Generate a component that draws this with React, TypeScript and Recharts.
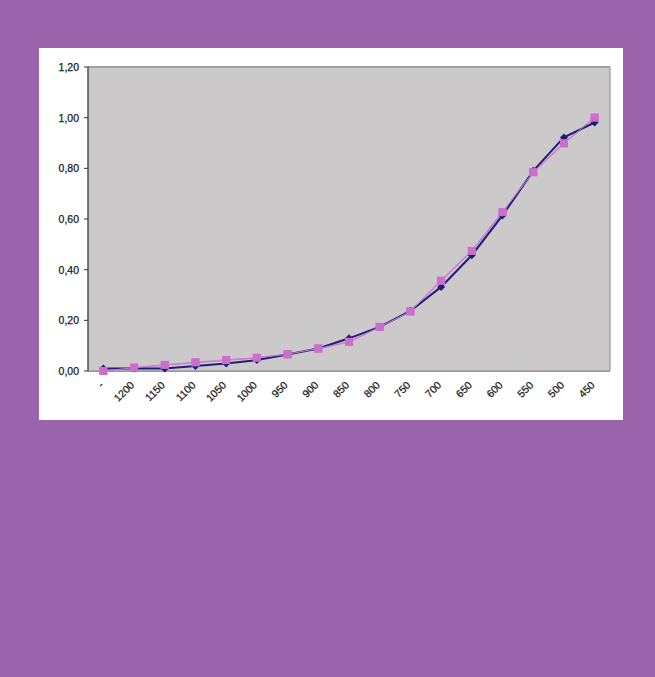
import React from "react";
import { LineChart, Line, XAxis, YAxis, CartesianGrid, ReferenceArea } from "recharts";

const categories = ["-", "1200", "1150", "1100", "1050", "1000", "950", "900", "850", "800", "750", "700", "650", "600", "550", "500", "450"];
const seriesBlue = [0.01, 0.01, 0.01, 0.02, 0.03, 0.043, 0.065, 0.089, 0.129, 0.174, 0.237, 0.332, 0.457, 0.614, 0.79, 0.922, 0.981];
const seriesPink = [0.0, 0.013, 0.024, 0.034, 0.043, 0.052, 0.066, 0.089, 0.115, 0.174, 0.235, 0.356, 0.474, 0.627, 0.785, 0.899, 1.0];
const yTicks = [0, 0.2, 0.4, 0.6, 0.8, 1.0, 1.2];

const data = categories.map((c, i) => ({ pos: i + 0.5, label: c, blue: seriesBlue[i], pink: seriesPink[i] }));
const labelTicks = categories.map((_, i) => i + 0.5);
const boundaryTicks = categories.map((_, i) => i).concat([categories.length]);

const FONT = "Liberation Sans, Arial, sans-serif";

const RotTick = (props: any) => {
  const { x, y, payload } = props;
  const idx = Math.round(payload.value - 0.5);
  return (
    <text
      x={0}
      y={0}
      transform={`translate(${x - 2},${y + 4}) rotate(-45)`}
      textAnchor="end"
      dominantBaseline="central"
      fontSize={10.5}
      fontFamily={FONT}
      fill="#1a1a1a"
      stroke="#1a1a1a"
      strokeWidth={0.25}
    >
      {categories[idx]}
    </text>
  );
};

const YTick = (props: any) => {
  const { x, y, payload } = props;
  return (
    <text x={x} y={y} textAnchor="end" dominantBaseline="central" fontSize={10.5} fontFamily={FONT} fill="#1a1a1a" stroke="#1a1a1a" strokeWidth={0.25}>
      {Number(payload.value).toFixed(2).replace(".", ",")}
    </text>
  );
};

const Diamond = (props: any) => {
  const { cx, cy } = props;
  if (cx == null || cy == null) return null;
  return <path d={`M${cx},${cy - 4}L${cx + 4},${cy}L${cx},${cy + 4}L${cx - 4},${cy}Z`} fill="#1c1f78" />;
};

const Square = (props: any) => {
  const { cx, cy } = props;
  if (cx == null || cy == null) return null;
  return <rect x={cx - 4} y={cy - 4} width={8} height={8} fill="#cc6fcc" />;
};

export default function App() {
  return (
    <div style={{ position: "absolute", left: 0, top: 0, width: 655, height: 677, background: "#9a63ac", overflow: "hidden" }}>
      <div style={{ position: "absolute", left: 39, top: 48, width: 584, height: 372, background: "#ffffff" }}>
        <LineChart width={584} height={372} data={data} margin={{ top: 19, right: 13, left: 9, bottom: 9 }}>
          <ReferenceArea xAxisId="ticks" x1={0} x2={categories.length} y1={0} y2={1.2} fill="#cbc9ca" fillOpacity={1} stroke="#8a8a8a" strokeWidth={1} />
          <CartesianGrid xAxisId="ticks" vertical={false} stroke="#4a4a4a" strokeWidth={1} fill="none" />
          <XAxis
            xAxisId="ticks"
            type="number"
            dataKey="pos"
            domain={[0, categories.length]}
            ticks={boundaryTicks}
            tick={false}
            tickLine={{ stroke: "#333" }}
            tickSize={4}
            axisLine={{ stroke: "#333" }}
            height={0}
          />
          <XAxis
            xAxisId="labels"
            type="number"
            dataKey="pos"
            domain={[0, categories.length]}
            ticks={labelTicks}
            tick={<RotTick />}
            tickLine={false}
            axisLine={false}
            height={40}
            interval={0}
          />
          <YAxis
            type="number"
            domain={[0, 1.2]}
            ticks={yTicks}
            tick={<YTick />}
            tickLine={{ stroke: "#333" }}
            tickSize={4}
            tickMargin={5}
            axisLine={{ stroke: "#333" }}
            width={40}
            interval={0}
          />
          <Line xAxisId="labels" type="linear" dataKey="pink" stroke="#d27ad2" strokeWidth={1.5} dot={<Square />} isAnimationActive={false} />
          <Line xAxisId="labels" type="linear" dataKey="blue" stroke="#1c1f78" strokeWidth={2} dot={<Diamond />} isAnimationActive={false} />
          <Line xAxisId="labels" type="linear" dataKey="pink" stroke="#d27ad2" strokeWidth={1} dot={<Square />} isAnimationActive={false} legendType="none" />
        </LineChart>
      </div>
    </div>
  );
}
